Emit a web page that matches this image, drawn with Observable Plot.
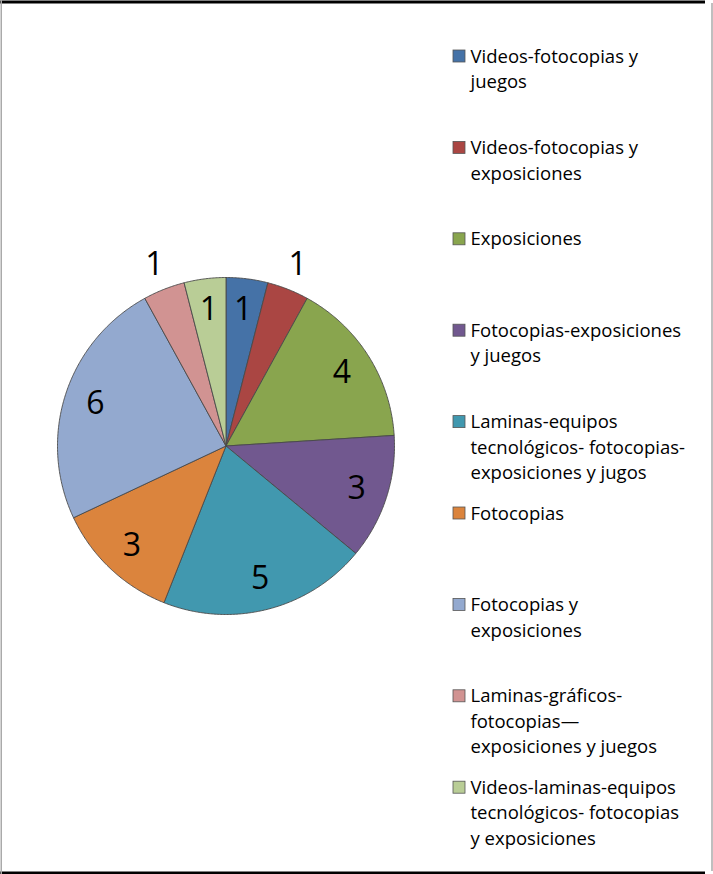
<!DOCTYPE html>
<html>
<head>
<meta charset="utf-8">
<script src="https://cdn.jsdelivr.net/npm/d3@7"></script>
<script src="https://cdn.jsdelivr.net/npm/@observablehq/plot@0.6"></script>
<style>
  html, body { margin: 0; padding: 0; background: #fff; }
  #chart { width: 713px; height: 874px; }
</style>
</head>
<body>
<div id="chart"></div>
<script>
// ---- data ----
const categories = [
  "Videos-fotocopias y\njuegos",
  "Videos-fotocopias y\nexposiciones",
  "Exposiciones",
  "Fotocopias-exposiciones\ny juegos",
  "Laminas-equipos\ntecnológicos- fotocopias-\nexposiciones y jugos",
  "Fotocopias",
  "Fotocopias y\nexposiciones",
  "Laminas-gráficos-\nfotocopias—\nexposiciones y juegos",
  "Videos-laminas-equipos\ntecnológicos- fotocopias\ny exposiciones"
];
const values = [1, 1, 4, 3, 5, 3, 6, 1, 1];
const colors = ["#4572A7", "#AA4643", "#89A54E", "#71588F", "#4198AF", "#DB843D", "#93A9CF", "#D19392", "#B9CD96"];
const labelOutside = [false, true, false, false, false, false, false, true, false];

// ---- geometry (layout) ----
const W = 713, H = 874;
const cx = 225.5, cy = 445.5, R = 168.5;
const legendX = 453, legendTextX = 470, legendY0 = 56, legendStep = 91.4;

const total = d3.sum(values);
let cum = 0;
const slicePts = [];
const labels = [];
values.forEach((v, i) => {
  const a0 = cum / total * 2 * Math.PI;
  cum += v;
  const a1 = cum / total * 2 * Math.PI;
  const n = Math.max(2, Math.ceil((a1 - a0) / (Math.PI / 360)));
  slicePts.push({cat: categories[i], x: cx, y: cy});
  for (let k = 0; k <= n; k++) {
    const a = a0 + (a1 - a0) * k / n;
    slicePts.push({cat: categories[i], x: cx + R * Math.sin(a), y: cy - R * Math.cos(a)});
  }
  slicePts.push({cat: categories[i], x: cx, y: cy});
  const am = (a0 + a1) / 2;
  const rl = labelOutside[i] ? 1.155 * R : 0.815 * R;
  labels.push({text: String(v), x: cx + rl * Math.sin(am), y: cy - rl * Math.cos(am)});
});

const legend = categories.map((c, i) => ({cat: c, y: legendY0 + i * legendStep}));

const chart = Plot.plot({
  width: W,
  height: H,
  margin: 0,
  x: {type: "identity", axis: null},
  y: {type: "identity", axis: null},
  color: {domain: categories, range: colors},
  style: {fontFamily: "'Open Sans', sans-serif", background: "#fff"},
  marks: [
    // pie slices
    Plot.line(slicePts, {x: "x", y: "y", z: "cat", fill: "cat", stroke: "#4a4a4a", strokeWidth: 0.9, strokeLinejoin: "round"}),
    // data labels
    Plot.text(labels, {x: "x", y: "y", text: "text", fontSize: 32, fill: "#000", textAnchor: "middle", lineAnchor: "middle"}),
    // legend swatches
    Plot.rect(legend, {x1: legendX, x2: legendX + 12, y1: d => d.y - 6, y2: d => d.y + 6, fill: "cat", stroke: "#555", strokeWidth: 0.8}),
    // legend text
    Plot.text(legend, {x: legendTextX, y: d => d.y - 12, text: "cat", textAnchor: "start", lineAnchor: "top", lineHeight: 1.38, fontSize: 18.5, fill: "#000"}),
    // outer frame
    Plot.ruleY([1.5], {x1: 0, x2: 705, stroke: "#000", strokeWidth: 3}),
    Plot.ruleY([872.5], {x1: 0, x2: 705, stroke: "#000", strokeWidth: 3}),
    Plot.ruleX([0.75], {y1: 0, y2: H, stroke: "#aaa", strokeWidth: 1.5}),
    Plot.ruleX([711.5], {y1: 3, y2: 871, stroke: "#aaa", strokeWidth: 1.5})
  ]
});
document.getElementById("chart").appendChild(chart);
</script>
</body>
</html>
